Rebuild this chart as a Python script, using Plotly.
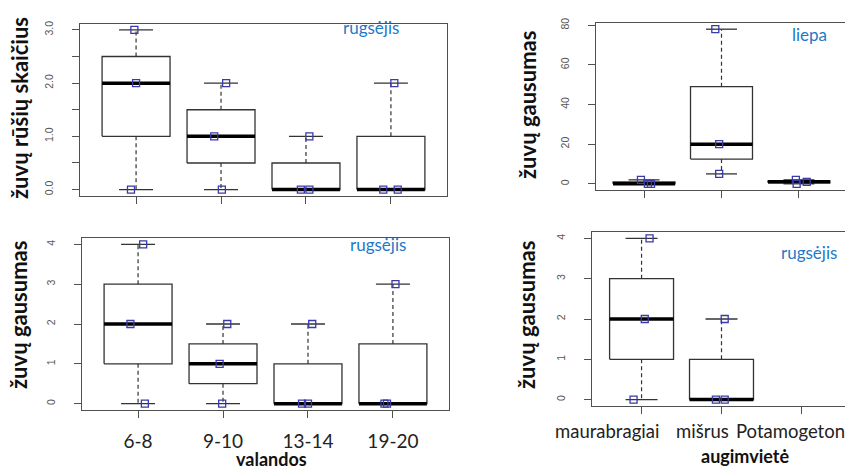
import math
import plotly.graph_objects as go

# ---------------- data ----------------
HOURS = ["6-8", "9-10", "13-14", "19-20"]
HABITATS = ["maurabragiai", "mišrus", "Potamogeton"]

SPECIES_SEP = [[3, 2, 0], [2, 1, 0], [1, 0, 0], [2, 0, 0]]          # žuvų rūšių skaičius, rugsėjis
ABUND_HAB_JUL = [[2, 0, 0], [78, 20, 5], [2, 0, 1]]                  # žuvų gausumas, liepa
ABUND_HOUR_SEP = [[4, 2, 0], [2, 1, 0], [2, 0, 0], [3, 0, 0]]        # žuvų gausumas, rugsėjis
ABUND_HAB_SEP = [[4, 2, 0], [2, 0, 0], []]                           # žuvų gausumas, rugsėjis

# stripchart jitter
JIT_SPECIES_SEP = [[-0.02, 0.0, -0.06], [0.06, -0.08, 0.01], [0.04, -0.06, 0.04], [0.04, -0.09, 0.08]]
JIT_HAB_JUL = [[-0.04, 0.05, 0.09], [-0.08, -0.03, -0.03], [-0.04, -0.03, 0.10]]
JIT_HOUR_SEP = [[0.06, -0.09, 0.08], [0.05, -0.04, -0.01], [0.05, -0.07, 0.0], [0.03, -0.10, -0.07]]
JIT_HAB_SEP = [[0.10, 0.04, -0.10], [0.04, -0.07, 0.04], []]

# horizontal shift (px) of the habitat labels under the bottom-right panel
HAB_LABEL_SHIFT = [-35, -19, -11]

W, H = 853, 466
BLUE = "#1f78c8"
FRAME = "#505050"
FONT_T = "Lato"
FONT_N = "Liberation Sans"


def fivenum(v):
    x = sorted(v)
    n = len(x)
    n4 = math.floor((n + 3) / 2) / 2
    d = [1, n4, (n + 1) / 2, n + 1 - n4, n]
    return [0.5 * (x[math.floor(di - 1)] + x[math.ceil(di - 1)]) for di in d]


def px(xp):
    return xp / W


def py(yp):
    return 1 - yp / H


fig = go.Figure()


def add_panel(data, jit, xa, ya):
    bx, by, wx, wy, mx, my, sx, sy = [], [], [], [], [], [], [], []
    for i, vals in enumerate(data, start=1):
        if not vals:
            continue
        mn, q1, med, q3, mxv = fivenum(vals)
        iqr = q3 - q1
        lo = min(v for v in vals if v >= q1 - 1.5 * iqr)
        hi = max(v for v in vals if v <= q3 + 1.5 * iqr)
        bx += [i - 0.4, i + 0.4, i + 0.4, i - 0.4, i - 0.4, None]
        by += [q1, q1, q3, q3, q1, None]
        # staples
        bx += [i - 0.2, i + 0.2, None, i - 0.2, i + 0.2, None]
        by += [hi, hi, None, lo, lo, None]
        wx += [i, i, None, i, i, None]
        wy += [q3, hi, None, q1, lo, None]
        mx += [i - 0.4, i + 0.4, None]
        my += [med, med, None]
        for v, j in zip(vals, jit[i - 1]):
            sx.append(i + j)
            sy.append(v)
    common = dict(xaxis=xa, yaxis=ya, showlegend=False, hoverinfo="skip")
    fig.add_trace(go.Scatter(x=wx, y=wy, mode="lines",
                             line=dict(color="#333333", width=1.2, dash="4px,3px"), **common))
    fig.add_trace(go.Scatter(x=bx, y=by, mode="lines",
                             line=dict(color="#333333", width=1.3), **common))
    fig.add_trace(go.Scatter(x=mx, y=my, mode="lines",
                             line=dict(color="#000000", width=3.5), **common))
    fig.add_trace(go.Scatter(x=sx, y=sy, mode="markers",
                             marker=dict(symbol="square-open", size=7, color="#3a3aa8",
                                         line=dict(width=1.3, color="#3a3aa8")), **common))


add_panel(SPECIES_SEP, JIT_SPECIES_SEP, "x", "y")
add_panel(ABUND_HAB_JUL, JIT_HAB_JUL, "x2", "y2")
add_panel(ABUND_HOUR_SEP, JIT_HOUR_SEP, "x3", "y3")
add_panel(ABUND_HAB_SEP, JIT_HAB_SEP, "x4", "y4")


def xaxis(dom, n, labels, show, standoff=0):
    return dict(domain=dom, range=[1 - 0.5 - 0.04 * n, n + 0.5 + 0.04 * n],
                tickvals=list(range(1, n + 1)), ticktext=labels, showticklabels=show,
                tickangle=0, automargin=False,
                ticks="outside", ticklen=7, tickwidth=1, tickcolor=FRAME,
                showline=True, linecolor=FRAME, linewidth=1.3, mirror=True,
                showgrid=False, zeroline=False, fixedrange=True,
                tickfont=dict(family=FONT_T, size=19, color="#222222"),
                ticklabelstandoff=standoff)


def yaxis(dom, lo, hi, tv, tt):
    ext = 0.04 * (hi - lo)
    return dict(domain=dom, range=[lo - ext, hi + ext], tickvals=tv, ticktext=tt,
                tickangle=-90, automargin=False,
                ticks="outside", ticklen=7, tickwidth=1, tickcolor=FRAME,
                showline=True, linecolor=FRAME, linewidth=1.3, mirror=True,
                showgrid=False, zeroline=False, fixedrange=True,
                tickfont=dict(family=FONT_N, size=10.5, color="#555555"),
                ticklabelstandoff=15)


sp_ticks = [0, 0.5, 1, 1.5, 2, 2.5, 3]
sp_text = ["0.0", "", "1.0", "", "2.0", "", "3.0"]
jul_ticks = [0, 20, 40, 60, 80]
cnt_ticks = [0, 1, 2, 3, 4]

fig.update_layout(
    width=W, height=H, margin=dict(l=0, r=0, t=0, b=0),
    paper_bgcolor="white", plot_bgcolor="white",
    xaxis=dict(xaxis([px(72), px(439)], 4, HOURS, False), anchor="y"),
    yaxis=dict(yaxis([py(188), py(15.5)], 0, 3, sp_ticks, sp_text), anchor="x"),
    xaxis2=dict(xaxis([px(588), px(839)], 3, HABITATS, False), anchor="y2"),
    yaxis2=dict(yaxis([py(182), py(15)], 0, 78, jul_ticks, [str(t) for t in jul_ticks]), anchor="x2"),
    xaxis3=dict(xaxis([px(74), px(441)], 4, HOURS, True, 7), anchor="y3"),
    yaxis3=dict(yaxis([py(402), py(230)], 0, 4, cnt_ticks, [str(t) for t in cnt_ticks]), anchor="x3"),
    xaxis4=dict(xaxis([px(584), px(843)], 3, HABITATS, False), anchor="y4"),
    yaxis4=dict(yaxis([py(398), py(224)], 0, 4, cnt_ticks, [str(t) for t in cnt_ticks]), anchor="x4"),
)

DY = 7  # compensation for Lato's text-box offset
ann = []
# habitat tick labels (bottom-right panel)
for i, (lab, sh) in enumerate(zip(HABITATS, HAB_LABEL_SHIFT), start=1):
    ann.append(dict(text=lab, x=i, y=py(430 - DY), xref="x4", yref="paper", xshift=sh,
                    showarrow=False, xanchor="center", yanchor="middle",
                    font=dict(family=FONT_T, size=18.5, color="#222222")))
# y-axis titles
for text, xx, yy in [("žuvų rūšių skaičius", 18, 100), ("žuvų gausumas", 526, 97),
                     ("žuvų gausumas", 17, 307), ("žuvų gausumas", 525, 307)]:
    ann.append(dict(text=f"<b>{text}</b>", x=px(xx - DY), y=py(yy), xref="paper", yref="paper",
                    textangle=-90, showarrow=False, xanchor="center", yanchor="middle",
                    font=dict(family=FONT_T, size=22, color="#111111")))
# x-axis titles
for text, xx, yy in [("valandos", 263, 458), ("augimvietė", 737, 455)]:
    ann.append(dict(text=f"<b>{text}</b>", x=px(xx), y=py(yy - DY), xref="paper", yref="paper",
                    showarrow=False, xanchor="center", yanchor="middle",
                    font=dict(family=FONT_T, size=18, color="#111111")))
# month labels
for text, xx, yy in [("rugsėjis", 363, 27), ("liepa", 801, 33), ("rugsėjis", 370, 243), ("rugsėjis", 801, 252)]:
    ann.append(dict(text=text, x=px(xx), y=py(yy - DY), xref="paper", yref="paper",
                    showarrow=False, xanchor="center", yanchor="middle",
                    font=dict(family=FONT_T, size=17, color=BLUE)))
fig.update_layout(annotations=ann)

fig.write_html("out.html")
